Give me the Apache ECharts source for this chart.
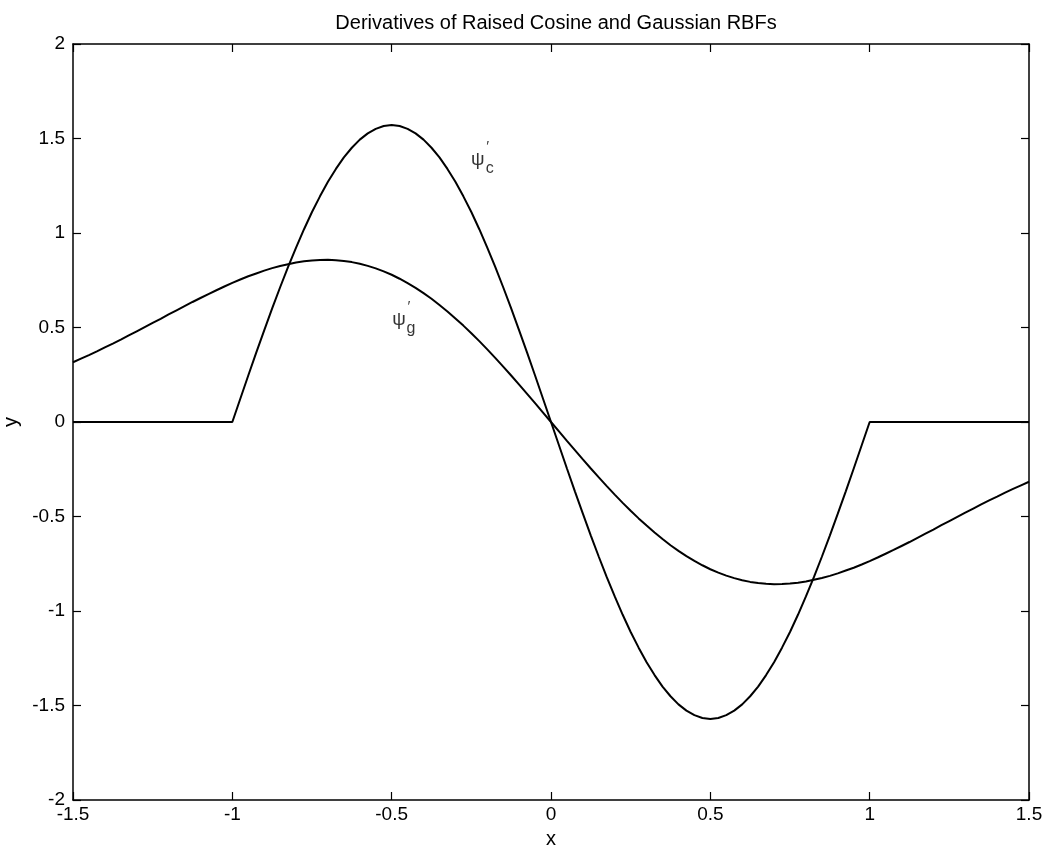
<!DOCTYPE html>
<html>
<head>
<meta charset="utf-8">
<title>Derivatives of Raised Cosine and Gaussian RBFs</title>
<script src="https://cdn.jsdelivr.net/npm/echarts@6/dist/echarts.min.js"></script>
<style>
  html, body { margin: 0; padding: 0; background: #fff; }
  #chart { width: 1048px; height: 852px; }
</style>
</head>
<body>
<div id="chart"></div>
<script>
// x samples, step 0.025
const xs = [
  -1.5, -1.475, -1.45, -1.425, -1.4, -1.375, -1.35, -1.325, -1.3, -1.275,
  -1.25, -1.225, -1.2, -1.175, -1.15, -1.125, -1.1, -1.075, -1.05, -1.025,
  -1.0, -0.975, -0.95, -0.925, -0.9, -0.875, -0.85, -0.825, -0.8, -0.775,
  -0.75, -0.725, -0.7, -0.675, -0.65, -0.625, -0.6, -0.575, -0.55, -0.525,
  -0.5, -0.475, -0.45, -0.425, -0.4, -0.375, -0.35, -0.325, -0.3, -0.275,
  -0.25, -0.225, -0.2, -0.175, -0.15, -0.125, -0.1, -0.075, -0.05, -0.025,
  0,
  0.025, 0.05, 0.075, 0.1, 0.125, 0.15, 0.175, 0.2, 0.225, 0.25,
  0.275, 0.3, 0.325, 0.35, 0.375, 0.4, 0.425, 0.45, 0.475, 0.5,
  0.525, 0.55, 0.575, 0.6, 0.625, 0.65, 0.675, 0.7, 0.725, 0.75,
  0.775, 0.8, 0.825, 0.85, 0.875, 0.9, 0.925, 0.95, 0.975, 1.0,
  1.025, 1.05, 1.075, 1.1, 1.125, 1.15, 1.175, 1.2, 1.225, 1.25,
  1.275, 1.3, 1.325, 1.35, 1.375, 1.4, 1.425, 1.45, 1.475, 1.5
]
// raised cosine derivative (psi'_c)
const cosineValues = [
  0, 0, 0, 0, 0, 0, 0, 0, 0, 0,
  0, 0, 0, 0, 0, 0, 0, 0, 0, 0,
  0, 0.123, 0.246, 0.367, 0.485, 0.601, 0.713, 0.821, 0.923, 1.020,
  1.111, 1.194, 1.271, 1.339, 1.400, 1.451, 1.494, 1.527, 1.551, 1.566,
  1.571, 1.566, 1.551, 1.527, 1.494, 1.451, 1.400, 1.339, 1.271, 1.194,
  1.111, 1.020, 0.923, 0.821, 0.713, 0.601, 0.485, 0.367, 0.246, 0.123,
  0,
  -0.123, -0.246, -0.367, -0.485, -0.601, -0.713, -0.821, -0.923, -1.020, -1.111,
  -1.194, -1.271, -1.339, -1.400, -1.451, -1.494, -1.527, -1.551, -1.566, -1.571,
  -1.566, -1.551, -1.527, -1.494, -1.451, -1.400, -1.339, -1.271, -1.194, -1.111,
  -1.020, -0.923, -0.821, -0.713, -0.601, -0.485, -0.367, -0.246, -0.123, 0,
  0, 0, 0, 0, 0, 0, 0, 0, 0, 0,
  0, 0, 0, 0, 0, 0, 0, 0, 0, 0
]
// gaussian derivative (psi'_g)
const gaussValues = [
  0.316, 0.335, 0.354, 0.374, 0.395, 0.415, 0.436, 0.458, 0.480, 0.502,
  0.524, 0.546, 0.569, 0.591, 0.613, 0.635, 0.656, 0.677, 0.697, 0.717,
  0.736, 0.754, 0.771, 0.786, 0.801, 0.814, 0.825, 0.835, 0.844, 0.850,
  0.855, 0.857, 0.858, 0.856, 0.852, 0.846, 0.837, 0.826, 0.813, 0.797,
  0.779, 0.758, 0.735, 0.710, 0.682, 0.652, 0.619, 0.585, 0.548, 0.510,
  0.470, 0.428, 0.384, 0.339, 0.293, 0.246, 0.198, 0.149, 0.100, 0.050,
  0,
  -0.050, -0.100, -0.149, -0.198, -0.246, -0.293, -0.339, -0.384, -0.428, -0.470,
  -0.510, -0.548, -0.585, -0.619, -0.652, -0.682, -0.710, -0.735, -0.758, -0.779,
  -0.797, -0.813, -0.826, -0.837, -0.846, -0.852, -0.856, -0.858, -0.857, -0.855,
  -0.850, -0.844, -0.835, -0.825, -0.814, -0.801, -0.786, -0.771, -0.754, -0.736,
  -0.717, -0.697, -0.677, -0.656, -0.635, -0.613, -0.591, -0.569, -0.546, -0.524,
  -0.502, -0.480, -0.458, -0.436, -0.415, -0.395, -0.374, -0.354, -0.335, -0.316
]
// curve labels: [x, y] anchor of the psi glyph
const labelC = [-0.23, 1.386]
const labelG = [-0.477, 0.54]

const chart = echarts.init(document.getElementById('chart'))
const font = 'Liberation Sans, Arial, Helvetica, sans-serif'
const black = '#000'

// top / right box axes, ticks only
const sideAxis = {
  type: 'value',
  axisLine: { show: true, onZero: false, lineStyle: { color: black, width: 1.5 } },
  axisTick: { show: true, inside: true, length: 8, lineStyle: { color: black, width: 1.2 } },
  axisLabel: { show: false },
  splitLine: { show: false }
}

function glyphs(pos, sub) {
  return [
    { value: pos, label: { formatter: 'ψ', fontSize: 19, offset: [0, 0] } },
    { value: pos, label: { formatter: '\u2032', fontSize: 15, offset: [10, -13] } },
    { value: pos, label: { formatter: sub, fontSize: 16, offset: [12, 9] } }
  ]
}

const option = {
  backgroundColor: '#fff',
  animation: false,
  title: {
    text: 'Derivatives of Raised Cosine and Gaussian RBFs',
    left: 551,
    textAlign: 'center',
    top: 8,
    textStyle: { fontFamily: font, fontSize: 20, fontWeight: 'normal', color: black }
  },
  grid: { left: 73, right: 19, top: 44, bottom: 52, containLabel: false, outerBoundsMode: 'none' },
  xAxis: [
    {
      type: 'value',
      min: -1.5,
      max: 1.5,
      interval: 0.5,
      name: 'x',
      nameLocation: 'middle',
      nameGap: 29,
      nameTextStyle: { fontFamily: font, fontSize: 20, color: black },
      axisLine: { show: true, onZero: false, lineStyle: { color: black, width: 1.5 } },
      axisTick: { show: true, inside: true, length: 8, lineStyle: { color: black, width: 1.2 } },
      axisLabel: { fontFamily: font, fontSize: 19, color: black, margin: 5 },
      splitLine: { show: false }
    },
    Object.assign({}, sideAxis, { position: 'top', min: -1.5, max: 1.5, interval: 0.5 })
  ],
  yAxis: [
    {
      type: 'value',
      min: -2,
      max: 2,
      interval: 0.5,
      name: 'y',
      nameLocation: 'middle',
      nameGap: 50,
      nameRotate: 90,
      nameTextStyle: { fontFamily: font, fontSize: 20, color: black },
      axisLine: { show: true, onZero: false, lineStyle: { color: black, width: 1.5 } },
      axisTick: { show: true, inside: true, length: 8, lineStyle: { color: black, width: 1.2 } },
      axisLabel: { fontFamily: font, fontSize: 19, color: black, margin: 8 },
      splitLine: { show: false }
    },
    Object.assign({}, sideAxis, { position: 'right', min: -2, max: 2, interval: 0.5 })
  ],
  series: [
    {
      name: 'cosine',
      type: 'line',
      showSymbol: false,
      lineStyle: { color: black, width: 2 },
      data: xs.map((x, i) => [x, cosineValues[i]])
    },
    {
      name: 'gauss',
      type: 'line',
      showSymbol: false,
      lineStyle: { color: black, width: 2 },
      data: xs.map((x, i) => [x, gaussValues[i]])
    },
    {
      name: 'labels',
      type: 'scatter',
      symbolSize: 0,
      silent: true,
      label: {
        show: true,
        position: 'inside',
        fontFamily: font,
        color: black
      },
      data: glyphs(labelC, 'c').concat(glyphs(labelG, 'g'))
    }
  ]
}

chart.setOption(option)
</script>
</body>
</html>
